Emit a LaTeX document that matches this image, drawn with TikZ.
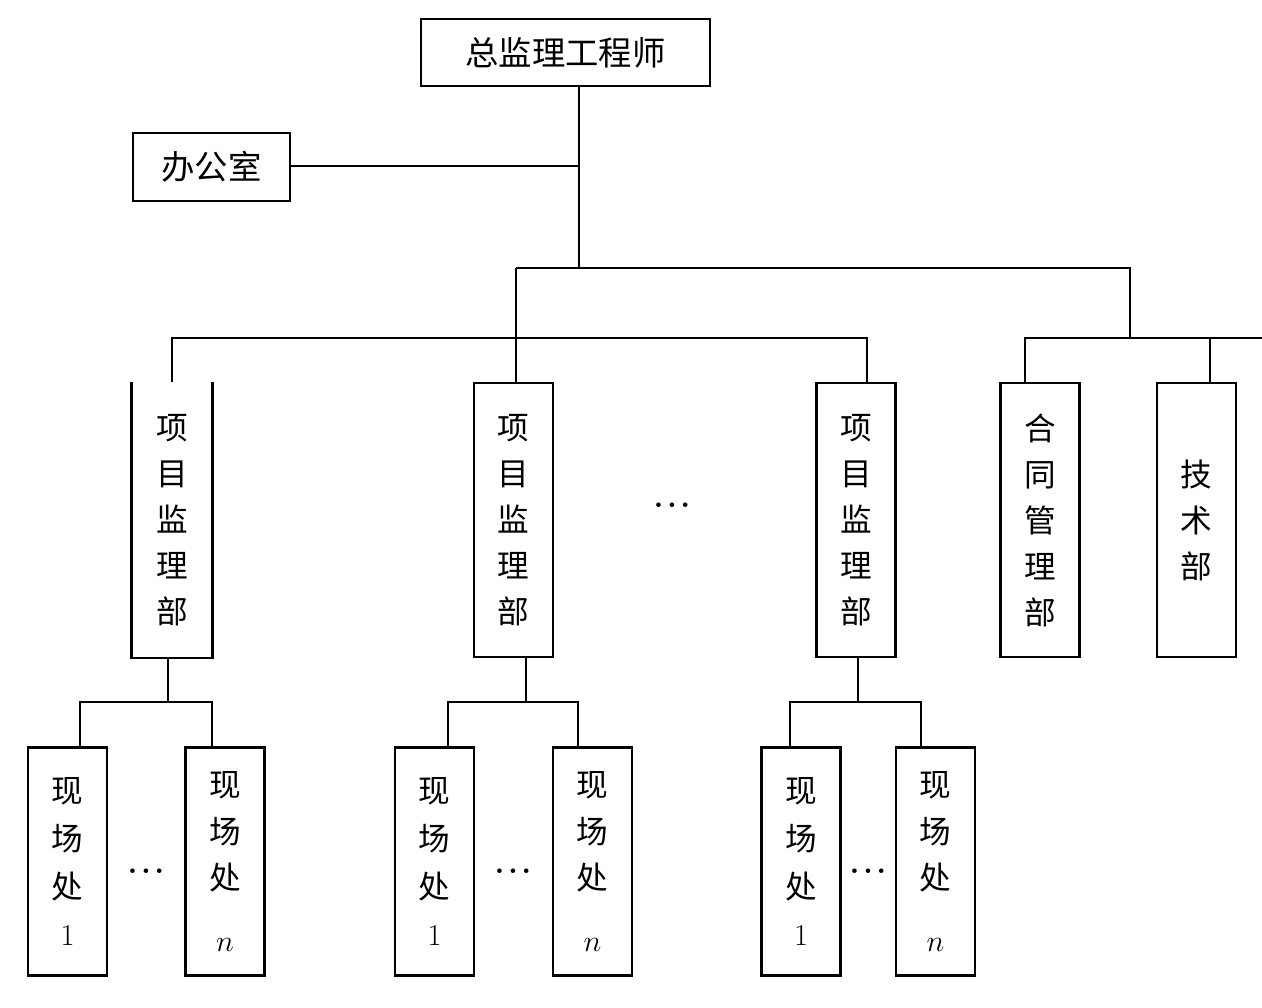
\documentclass[tikz,border=0pt]{standalone}
\usepackage{fontspec}
\newfontfamily\cjk{Noto Sans CJK SC}
\tikzset{
  box/.style={draw,line width=1.3pt,inner sep=0pt},
  bigbox/.style={box,font=\cjk\fontsize{19}{19}\selectfont},
  bubox/.style={box,minimum width=1.58cm,minimum height=5.48cm,align=center,font=\cjk\fontsize{18}{26.2}\selectfont},
  chbox/.style={box,minimum width=1.58cm,minimum height=4.56cm,align=center,font=\cjk\fontsize{18}{27.3}\selectfont},
  link/.style={line width=1.3pt},
  ellip/.style={inner sep=0pt,font=\bfseries\fontsize{18}{18}\selectfont},
}
\newcommand\hdots{.\kern2pt.\kern2pt.}
\begin{document}
\begin{tikzpicture}[x=0.02cm,y=-0.02cm]
\useasboundingbox (0,0) rectangle (1262,1008);
% top level
\node[bigbox,minimum width=5.78cm,minimum height=1.34cm] (zj) at (565.5,52.5) {总监理工程师};
\node[bigbox,minimum width=3.14cm,minimum height=1.36cm] (bgs) at (211.5,167) {办公室};
% departments
\node[bubox,draw=none] (pb1) at (172,520) {项\\目\\监\\理\\部};
\draw[link] (pb1.north west) -- (pb1.south west) -- (pb1.south east) -- (pb1.north east);
\node[bubox] (pb2) at (513.5,520) {项\\目\\监\\理\\部};
\node[bubox] (pb3) at (856,520) {项\\目\\监\\理\\部};
\node[bubox] (ht) at (1040,520) {合\\同\\管\\理\\部};
\node[bubox] (js) at (1196.5,520) {技\\术\\部};
\node[ellip] (d0) at (672,505) {\hdots};
% junctions
\coordinate (t1) at (579,166);
\coordinate (t2) at (579,268);
\coordinate (h1) at (516,268);
\coordinate (h2) at (1130,268);
\coordinate (m0) at (172,338);
\coordinate (m3) at (867,338);
\coordinate (m4) at (1130,338);
\coordinate (r1) at (1025,338);
\coordinate (r2) at (1210,338);
\coordinate (redge) at (1262,338);
\draw[link] (zj.south -| t1) -- (t2);
\draw[link] (bgs.east |- t1) -- (t1);
\draw[link] (h1) -- (h2) -- (m4);
\draw[link] (h1) -- (h1 |- pb2.north);
\draw[link] (pb1.north) -- (m0) -- (m3) -- (m3 |- pb3.north);
\draw[link] (r1 |- ht.north) -- (r1) -- (redge);
\draw[link] (r2) -- (r2 |- js.north);
% field offices
\foreach \g/\cx/\ax/\bx/\ca/\cb/\dx in {1/168/67.5/225/80/212/146, 2/526/434.5/592.5/448/578/513, 3/858/801/935.5/790/921/868}{
  \node[chbox] (xa\g) at (\ax,861.5) {现\\场\\处\\$1$};
  \node[chbox] (xn\g) at (\bx,861.5) {现\\[-1pt]场\\[-1pt]处\\[8pt]$n$};
  \node[ellip] (dd\g) at (\dx,871) {\hdots};
  \coordinate (j\g) at (\cx,702);
  \draw[link] (\cx,657) -- (j\g);
  \draw[link] (\ca,702 |- xa\g.north) -- (\ca,702) -- (\cb,702) -- (\cb,702 |- xn\g.north);
}
\end{tikzpicture}
\end{document}
